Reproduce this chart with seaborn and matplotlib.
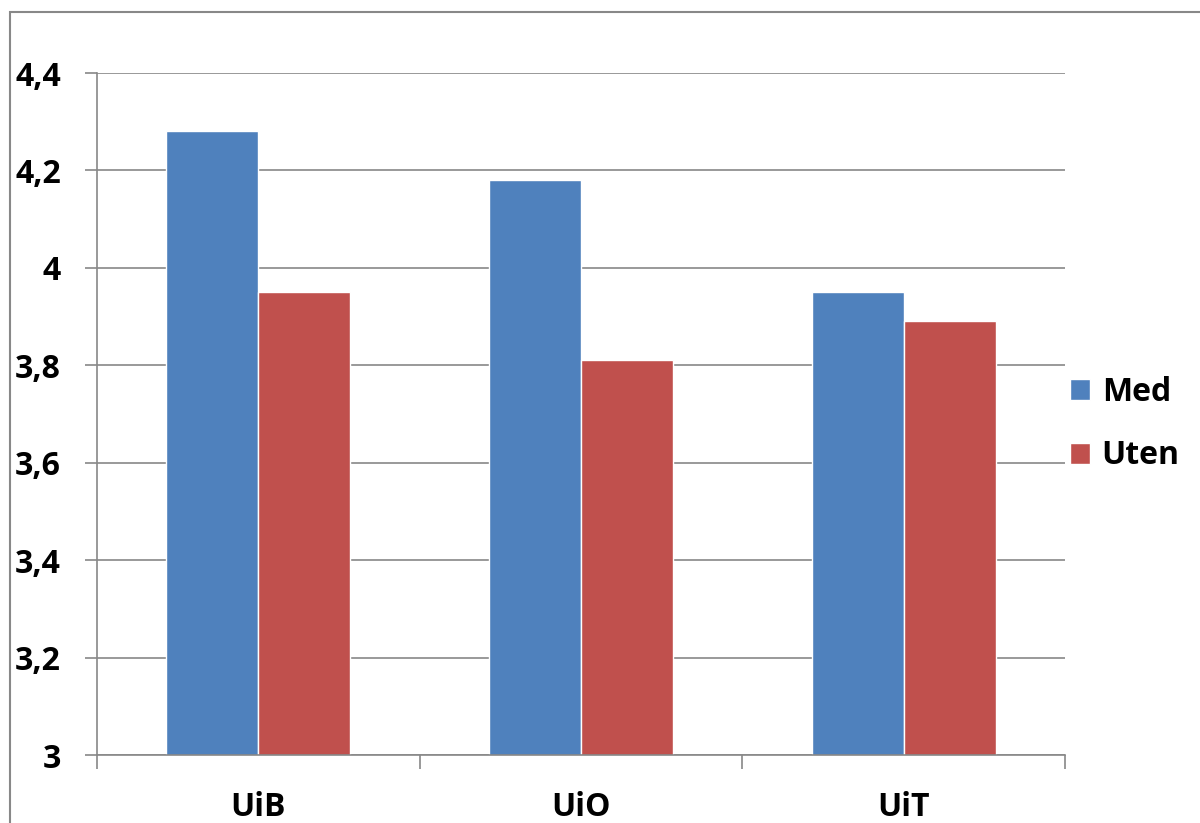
import matplotlib
matplotlib.use('Agg')
import matplotlib.pyplot as plt
import seaborn as sns
import pandas as pd
from matplotlib.patches import Rectangle

sns.set_style("white")
plt.rcParams['font.family'] = ['Open Sans', 'DejaVu Sans']
plt.rcParams['text.color'] = 'black'

schools = ['UiB', 'UiO', 'UiT']
med = [4.28, 4.18, 3.95]
uten = [3.95, 3.81, 3.89]
y_ticks = [3.0, 3.2, 3.4, 3.6, 3.8, 4.0, 4.2, 4.4]
y_labels = ['3', '3,2', '3,4', '3,6', '3,8', '4', '4,2', '4,4']

df = pd.DataFrame({'Skole': schools * 2,
                   'Verdi': med + uten,
                   'Gruppe': ['Med'] * 3 + ['Uten'] * 3})

fig = plt.figure(figsize=(12, 8.23), dpi=100)
ax = fig.add_axes([97 / 1200, 1 - 755 / 823, 968 / 1200, 682 / 823])

sns.barplot(data=df, x='Skole', y='Verdi', hue='Gruppe',
            palette=['#4F81BD', '#C0504D'], width=0.57, saturation=1,
            ax=ax, legend=True)

ax.set_ylim(3, 4.4)
ax.set_xlim(-0.5, 2.5)
ax.set_yticks(y_ticks)
ax.set_yticklabels(y_labels, fontsize=23, fontweight='bold', color='black')
ax.set_xticks([0, 1, 2])
ax.set_xticklabels(schools, fontsize=23, fontweight='bold', color='black')
ax.tick_params(axis='x', length=0, pad=26)
ax.tick_params(axis='y', length=9, width=1.2, color='#888888', pad=17, left=True)
# category separators on the x axis
ax.set_xticks([-0.5, 0.5, 1.5, 2.5], minor=True)
ax.tick_params(axis='x', which='minor', length=10, width=1.2, color='#888888', bottom=True)

ax.yaxis.grid(True, color='#888888', linewidth=1.2)
ax.set_axisbelow(True)
for s in ['top', 'right']:
    ax.spines[s].set_visible(False)
for s in ['left', 'bottom']:
    ax.spines[s].set_color('#888888')
    ax.spines[s].set_linewidth(1.2)
ax.set_xlabel('')
ax.set_ylabel('')

leg = ax.legend(loc='center left', bbox_to_anchor=(1.0, 0.485), frameon=False,
                prop={'size': 23, 'weight': 'bold'}, handlelength=0.62,
                handleheight=0.62, handletextpad=0.38, labelspacing=0.95,
                borderaxespad=0.05, borderpad=0.1)
for t in leg.get_texts():
    t.set_color('black')

fig.patches.append(Rectangle((10 / 1200, -0.1), 1.2, 1 - 12 / 823 + 0.1,
                             transform=fig.transFigure, fill=False,
                             edgecolor='#888888', linewidth=1.5))

fig.savefig('out.png', dpi=100)
